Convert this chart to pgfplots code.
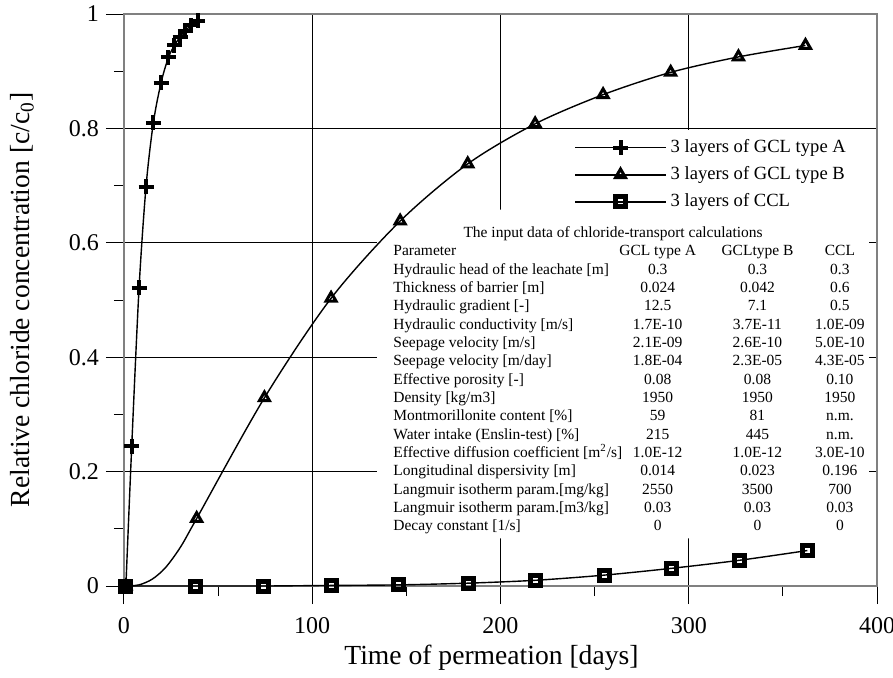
\documentclass[border=0pt]{standalone}
\usepackage{fontspec}
\setmainfont{Liberation Serif}
\usepackage{pgfplots}
\pgfplotsset{compat=1.18}
\newcommand\tf{\fontsize{7.75}{9.17}\selectfont}

\begin{document}
\begin{tikzpicture}
\begin{axis}[
  scale only axis, width=376.5pt, height=286pt,
  xmin=0, xmax=400, ymin=0, ymax=1,
  xtick={0,100,200,300,400}, ytick={0,0.2,0.4,0.6,0.8,1},
  minor x tick num=1, minor y tick num=1,
  tick align=outside, xtick pos=left, ytick pos=left,
  major tick length=9pt, minor tick length=5pt,
  grid=major, major grid style={black, line width=0.5pt},
  axis line style={gray, line width=0.8pt},
  tick style={black, line width=0.5pt},
  /pgf/number format/assume math mode=true,
  ticklabel style={font=\fontsize{12}{14}\selectfont},
  xticklabel style={yshift=-3pt},
  label style={font=\fontsize{13.8}{16}\selectfont},
  xlabel={Time of permeation [days]},
  ylabel={Relative chloride concentration [c/c\textsubscript{0}]},
  xlabel style={at={(axis description cs:0.488,-0.125)}, anchor=center},
  ylabel style={at={(axis description cs:-0.1355,0.5)}, anchor=center},
  legend cell align=left,
  legend style={at={(axis cs:239,0.788)}, anchor=north west, draw=none, fill=none,
    inner sep=0pt, font=\fontsize{9.3}{11}\selectfont, row sep=1.5pt},
  legend image code/.code={\draw[#1, mark indices={2}] plot coordinates {(0pt,0pt) (22.75pt,0pt) (45.5pt,0pt)};},
]
% white panel behind legend and table
\fill[white] (axis cs:221,0.797) -- (axis cs:395.7,0.797) -- (axis cs:395.7,0.0833)
  -- (axis cs:134.4,0.0833) -- (axis cs:134.4,0.658) -- (axis cs:221,0.658) -- cycle;

\node[anchor=base, inner sep=0pt, font=\tf] at (axis cs:259.8,0.609)
  {The input data of chloride-transport calculations};
\node[anchor=base west, inner sep=0pt, font=\tf] at (axis cs:142.9,0.5775) {%
\begin{tabular}[t]{@{}l@{}}
Parameter\\
Hydraulic head of the leachate [m]\\
Thickness of barrier [m]\\
Hydraulic gradient [-]\\
Hydraulic conductivity [m/s]\\
Seepage velocity [m/s]\\
Seepage velocity [m/day]\\
Effective porosity [-]\\
Density [kg/m3]\\
Montmorillonite content [\%]\\
Water intake (Enslin-test) [\%]\\
Effective diffusion coefficient [m\smash{\textsuperscript{2}}/s]\\
Longitudinal dispersivity [m]\\
Langmuir isotherm param.[mg/kg]\\
Langmuir isotherm param.[m3/kg]\\
Decay constant [1/s]
\end{tabular}};
\node[anchor=base, inner sep=0pt, font=\tf] at (axis cs:283.5,0.5775) {%
\begin{tabular}[t]{@{}c@{}}
GCL type A\\ 0.3\\ 0.024\\ 12.5\\ 1.7E-10\\ 2.1E-09\\ 1.8E-04\\ 0.08\\ 1950\\ 59\\ 215\\ 1.0E-12\\ 0.014\\ 2550\\ 0.03\\ 0
\end{tabular}};
\node[anchor=base, inner sep=0pt, font=\tf] at (axis cs:336.5,0.5775) {%
\begin{tabular}[t]{@{}c@{}}
GCLtype B\\ 0.3\\ 0.042\\ 7.1\\ 3.7E-11\\ 2.6E-10\\ 2.3E-05\\ 0.08\\ 1950\\ 81\\ 445\\ 1.0E-12\\ 0.023\\ 3500\\ 0.03\\ 0
\end{tabular}};
\node[anchor=base, inner sep=0pt, font=\tf] at (axis cs:380.3,0.5775) {%
\begin{tabular}[t]{@{}c@{}}
CCL\\ 0.3\\ 0.6\\ 0.5\\ 1.0E-09\\ 5.0E-10\\ 4.3E-05\\ 0.10\\ 1950\\ n.m.\\ n.m.\\ 3.0E-10\\ 0.196\\ 700\\ 0.03\\ 0
\end{tabular}};

% 3 layers of GCL type A
\addplot[black, line width=0.7pt, smooth, mark=+, mark size=3.75pt,
  mark options={solid, line width=2pt}] coordinates {
  (1,0) (4.1,0.244) (8.0,0.521) (11.7,0.698) (15.6,0.810) (19.7,0.880)
  (23.6,0.924) (26.8,0.945) (29.8,0.960) (32.6,0.971) (35.6,0.980) (39.3,0.988)
};
% 3 layers of GCL type B (extra unmarked points)
\addplot[black, line width=0.7pt, smooth, mark=triangle, mark size=2.9pt,
  mark indices={1,6,7,8,9,10,11,12,13,14,15},
  mark options={solid, line width=1.5pt}] coordinates {
  (1,0) (8,0.002) (15,0.012) (22,0.032) (30,0.068) (38.6,0.118)
  (74.6,0.329) (110,0.503) (146.7,0.638) (182.6,0.738) (218.4,0.808)
  (254.5,0.859) (290.4,0.898) (326.4,0.925) (362,0.945)
};
% 3 layers of CCL
\addplot[black, line width=0.7pt, smooth, mark=square, mark size=2.5pt,
  mark options={solid, line width=2.5pt}] coordinates {
  (1,0) (38,0) (74,0) (110,0.001) (146,0.002) (183,0.005) (218.5,0.010)
  (255,0.019) (291,0.031) (327,0.045) (363,0.062)
};
\legend{3 layers of GCL type A, 3 layers of GCL type B, 3 layers of CCL}
\end{axis}
\pgfresetboundingbox
\path ([shift={(-62pt,-45.5pt)}]current axis.south west) rectangle ([shift={(8pt,7pt)}]current axis.north east);
\end{tikzpicture}
\end{document}
